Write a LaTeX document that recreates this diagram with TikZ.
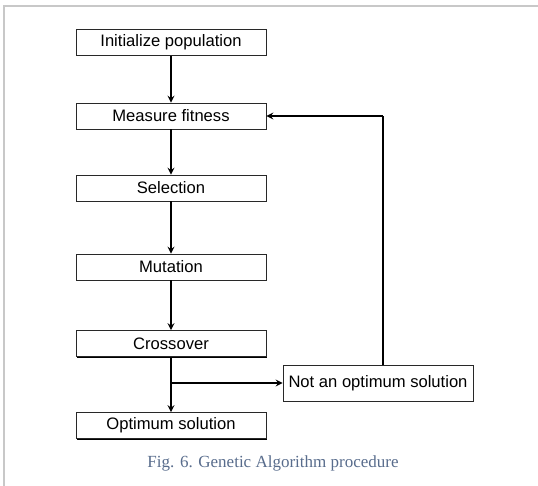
\documentclass[tikz,border=0pt]{standalone}
\usepackage{fontspec}
\setmainfont{Liberation Serif}
\setsansfont{Liberation Sans}
\usepackage{tikz}
\usetikzlibrary{shapes,arrows.meta,positioning,calc,shadows}
\usepackage{xcolor}
\definecolor{gaframe}{RGB}{200,200,200}
\definecolor{gacaption}{RGB}{88,108,140}
\definecolor{gaborder}{RGB}{40,40,40}
\tikzset{
    stage/.style={rectangle, draw=gaborder, fill=white, line width=0.8pt, minimum width=190pt, minimum height=26pt, inner sep=0pt,
        font=\sffamily\fontsize{16.6}{18}\selectfont,
        general shadow={shadow xshift=1pt, shadow yshift=-1pt, fill=black}},
    flow/.style={line width=1.8pt, black, -{Stealth[length=7pt, width=7pt, inset=2.5pt]}},
    link/.style={line width=1.8pt, black},
    caption/.style={font=\rmfamily\fontsize{17}{19}\selectfont, text=gacaption},
}

\begin{document}
\begin{tikzpicture}[x=1pt, y=-1pt]
    \useasboundingbox (0,0) rectangle (538,486);
    % page frame
    \draw[gaframe, line width=1.5pt] (4,490) -- (4,6) -- (545,6);

    % main chain
    \node[stage] (init) at (171,42.5) {Initialize population};
    \node[stage] (fitness) at (171,116) {Measure fitness};
    \node[stage] (select) at (171,188) {Selection};
    \node[stage] (mutate) at (171,267) {Mutation};
    \node[stage] (cross) at (171,343.5) {Crossover};
    \node[stage] (optimum) at (171,425.5) {Optimum solution};
    \node[stage, minimum height=36pt] (notopt) at (378,383) {Not an optimum solution};

    \draw[flow] (init) -- (fitness);
    \draw[flow] (fitness) -- (select);
    \draw[flow] (select) -- (mutate);
    \draw[flow] (mutate) -- (cross);
    \draw[flow] (cross) -- (optimum);

    % branch to the loop back
    \coordinate (split) at (171,383);
    \coordinate (back) at (383,116);
    \draw[flow] (split) -- (notopt.west);
    \draw[link] (notopt.north -| back) -- (back);
    \draw[flow] (back) -- (fitness.east);

    \node[caption] (cap) at (273,463) {Fig. 6. Genetic Algorithm procedure};
\end{tikzpicture}
\end{document}
